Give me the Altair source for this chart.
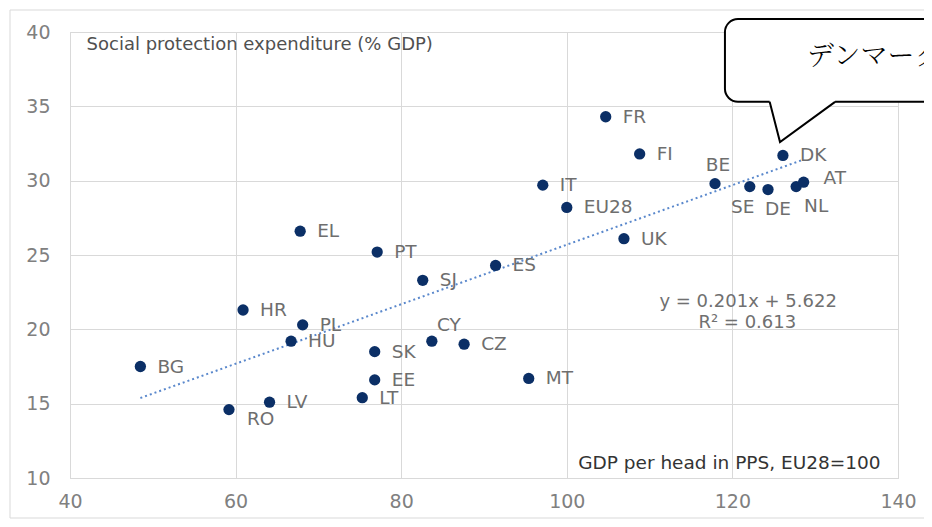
import altair as alt
import pandas as pd

# ---- data ----
countries = ["BG", "RO", "LV", "HR", "PL", "HU", "EL", "PT", "SI", "SK", "EE", "LT",
             "CY", "CZ", "MT", "ES", "IT", "EU28", "FR", "FI", "UK", "BE", "SE", "DE",
             "DK", "NL", "AT"]
gdp_pps = [48.5, 59.2, 64.1, 60.9, 68.1, 66.7, 67.8, 77.1, 82.6, 76.8, 76.8, 75.3,
           83.7, 87.6, 95.4, 91.4, 97.1, 100.0, 104.7, 108.8, 106.9, 117.9, 122.1, 124.3,
           126.1, 127.7, 128.6]
social_exp = [17.5, 14.6, 15.1, 21.3, 20.3, 19.2, 26.6, 25.2, 23.3, 18.5, 16.6, 15.4,
              19.2, 19.0, 16.7, 24.3, 29.7, 28.2, 34.3, 31.8, 26.1, 29.8, 29.6, 29.4,
              31.7, 29.6, 29.9]
# country label shown next to each point ("SI" appears as "SJ" in the image)
point_labels = ["BG", "RO", "LV", "HR", "PL", "HU", "EL", "PT", "SJ", "SK", "EE", "LT",
                "CY", "CZ", "MT", "ES", "IT", "EU28", "FR", "FI", "UK", "BE", "SE", "DE",
                "DK", "NL", "AT"]

x_ticks = [40, 60, 80, 100, 120, 140]
y_ticks = [10, 15, 20, 25, 30, 35, 40]

y_title = "Social protection expenditure (% GDP)"
x_title = "GDP per head in PPS, EU28=100"
eq_lines = ["y = 0.201x + 5.622", "R² = 0.613"]
callout_text = "デンマーク"

# annotation anchors (data coordinates)
y_title_pos = [42.0, 39.1]
x_title_pos = [137.9, 11.0]
eq_pos_x = [121.9, 121.8]
eq_pos_y = [21.85, 20.45]
callout_box_x = [119.1, 150.0]
callout_box_y = [40.87, 35.3]
callout_tail_x = [124.5, 125.75, 132.4]
callout_tail_y = [35.3, 32.6, 35.3]
callout_text_pos = [129.0, 38.3]

df = pd.DataFrame({"country": countries, "label": point_labels,
                   "gdp": gdp_pps, "spe": social_exp})

FONT = "DejaVu Sans"
NAVY = "#0B2F66"
LABEL_GRAY = "#6E6E6E"

xs = alt.Scale(domain=[40, 140], nice=False, zero=False)
ys = alt.Scale(domain=[10, 40], nice=False, zero=False)

X = alt.X("gdp:Q", scale=xs, axis=alt.Axis(values=x_ticks, title=None, grid=True))
Y = alt.Y("spe:Q", scale=ys, axis=alt.Axis(values=y_ticks, title=None, grid=True))

base = alt.Chart(df)

frame = alt.Chart(alt.Data(values=[{}])).mark_rect(
    fill=None, stroke="#D9D9D9", strokeWidth=1, clip=False
).encode(x=alt.value(-60), x2=alt.value(900), y=alt.value(-22), y2=alt.value(486))

trend = base.mark_line(color="#5A88CC", strokeWidth=2, strokeDash=[2, 3]).transform_regression(
    "gdp", "spe").encode(x=alt.X("gdp:Q", scale=xs), y=alt.Y("spe:Q", scale=ys))

points = base.mark_circle(size=127, color=NAVY, opacity=1).encode(x=X, y=Y)

# label placement offsets (pixels) for manually positioned labels
offsets = {"RO": (18, 9, "left"), "SE": (-7, 20, "center"), "DE": (10, 19, "center"),
           "NL": (20, 19, "center"), "BE": (3, -19, "center"), "CY": (17, -16, "center"),
           "AT": (20, -4, "left")}
LABEL_SIZE = 18.5
label_layers = []
default = [c for c in countries if c not in offsets]
label_layers.append(
    base.transform_filter(alt.FieldOneOfPredicate(field="country", oneOf=default))
    .mark_text(align="left", baseline="middle", dx=17, dy=0, font=FONT, fontSize=LABEL_SIZE,
               color=LABEL_GRAY)
    .encode(x=alt.X("gdp:Q", scale=xs), y=alt.Y("spe:Q", scale=ys), text="label:N"))
for c, (dx, dy, al) in offsets.items():
    label_layers.append(
        base.transform_filter(alt.FieldEqualPredicate(field="country", equal=c))
        .mark_text(align=al, baseline="middle", dx=dx, dy=dy, font=FONT, fontSize=LABEL_SIZE,
                   color=LABEL_GRAY)
        .encode(x=alt.X("gdp:Q", scale=xs), y=alt.Y("spe:Q", scale=ys), text="label:N"))

ytitle = alt.Chart(pd.DataFrame({"x": [y_title_pos[0]], "y": [y_title_pos[1]], "t": [y_title]})).mark_text(
    align="left", baseline="middle", font=FONT, fontSize=18, color="#505050"
).encode(x=alt.X("x:Q", scale=xs), y=alt.Y("y:Q", scale=ys), text="t:N")

xtitle = alt.Chart(pd.DataFrame({"x": [x_title_pos[0]], "y": [x_title_pos[1]], "t": [x_title]})).mark_text(
    align="right", baseline="middle", font=FONT, fontSize=18.5, color="#333333"
).encode(x=alt.X("x:Q", scale=xs), y=alt.Y("y:Q", scale=ys), text="t:N")

eq = alt.Chart(pd.DataFrame({"x": eq_pos_x, "y": eq_pos_y, "t": eq_lines})).mark_text(
    align="center", baseline="middle", font=FONT, fontSize=18, color="#707070"
).encode(x=alt.X("x:Q", scale=xs), y=alt.Y("y:Q", scale=ys), text="t:N")

box = alt.Chart(pd.DataFrame({"x": [callout_box_x[0]], "x2": [callout_box_x[1]],
                              "y": [callout_box_y[0]], "y2": [callout_box_y[1]]})).mark_rect(
    fill="white", stroke="black", strokeWidth=2, cornerRadius=13, clip=False
).encode(x=alt.X("x:Q", scale=xs), x2="x2:Q", y=alt.Y("y:Q", scale=ys), y2="y2:Q")

tail_df = pd.DataFrame({"x": callout_tail_x, "y": callout_tail_y,
                        "top": [callout_tail_y[0] + 0.12] * 3, "o": [0, 1, 2]})
tail_fill = alt.Chart(tail_df).mark_area(fill="white", clip=False).encode(
    x=alt.X("x:Q", scale=xs), y=alt.Y("y:Q", scale=ys), y2="top:Q")
tail_line = alt.Chart(tail_df).mark_line(color="black", strokeWidth=2, clip=False).encode(
    x=alt.X("x:Q", scale=xs), y=alt.Y("y:Q", scale=ys), order="o:Q")

ctext = alt.Chart(pd.DataFrame({"x": [callout_text_pos[0]], "y": [callout_text_pos[1]],
                                "t": [callout_text]})).mark_text(
    align="left", baseline="middle", font="Noto Serif CJK JP, Noto Sans CJK JP", fontSize=27,
    fontWeight=300, color="black", clip=False
).encode(x=alt.X("x:Q", scale=xs), y=alt.Y("y:Q", scale=ys), text="t:N")

chart = alt.layer(frame, trend, points, *label_layers, ytitle, xtitle, eq,
                  box, tail_fill, tail_line, ctext).properties(
    width=828, height=446,
    autosize=alt.AutoSizeParams(type="none"),
    padding={"left": 62, "top": 24, "right": 26, "bottom": 41},
).configure_view(stroke="#D9D9D9", strokeWidth=1).configure_axis(
    labelFont=FONT, labelFontSize=19, labelColor="#808080", ticks=False, tickSize=0,
    labelFlush=False, domainColor="#D9D9D9", gridColor="#D9D9D9", gridWidth=1,
).configure_axisY(labelPadding=20).configure_axisX(labelPadding=14)

chart.save("out.html", embed_options={"renderer": "svg", "actions": False})
